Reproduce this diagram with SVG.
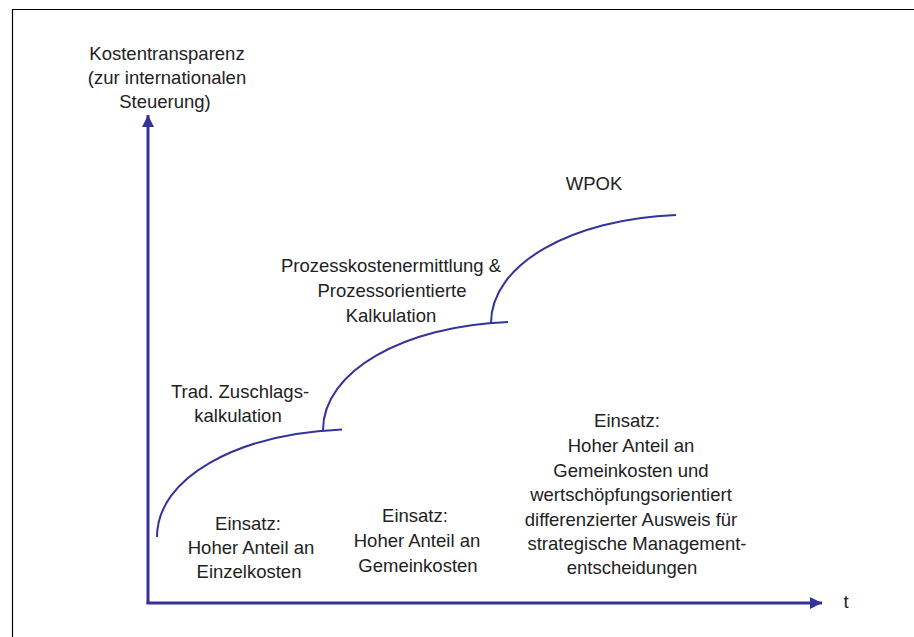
<svg xmlns="http://www.w3.org/2000/svg" width="914" height="637" viewBox="0 0 914 637">
  <style>
    text { font-family: "Liberation Sans", "DejaVu Sans", sans-serif; font-size: 18.5px; fill: #222222; text-anchor: middle; }
    .axis { stroke: #333399; stroke-width: 3; fill: none; }
    .curve { stroke: #333399; stroke-width: 2; fill: none; }
    .frame { stroke: #000000; stroke-width: 1.2; fill: none; }
  </style>
  <defs>
    <marker id="arrow" viewBox="0 0 12 12" refX="12" refY="6" markerWidth="12" markerHeight="12" markerUnits="userSpaceOnUse" orient="auto">
      <path d="M0,0 L12,6 L0,12 Z" fill="#333399"/>
    </marker>
  </defs>
  <rect width="914" height="637" fill="#ffffff"/>
  <path class="frame" d="M12.5,637 L12.5,9.5 L914,9.5"/>

  <g id="connectors">
    <line id="y-axis" class="axis" x1="148" y1="604" x2="148" y2="115" marker-end="url(#arrow)"/>
    <line id="x-axis" class="axis" x1="146.5" y1="603" x2="822" y2="603" marker-end="url(#arrow)"/>
    <path id="curve1" class="curve" d="M157,537 C157,478 236,434 342,429.5"/>
    <path id="curve2" class="curve" d="M323,430 C323,371 404,326 508,322"/>
    <path id="curve3" class="curve" d="M491,323 C491,264 572,219 676,215"/>
  </g>

  <g id="y-label">
    <text x="167" y="60">Kostentransparenz</text>
    <text x="167" y="84">(zur internationalen</text>
    <text x="165" y="108">Steuerung)</text>
  </g>
  <g id="x-label">
    <text x="846" y="608">t</text>
  </g>

  <g id="stage1">
    <text x="240" y="398">Trad. Zuschlags-</text>
    <text x="238" y="422">kalkulation</text>
  </g>
  <g id="stage2">
    <text x="391" y="272">Prozesskostenermittlung &amp;</text>
    <text x="392" y="297">Prozessorientierte</text>
    <text x="391" y="322">Kalkulation</text>
  </g>
  <g id="stage3">
    <text x="594" y="190">WPOK</text>
  </g>

  <g id="einsatz1">
    <text x="248" y="530">Einsatz:</text>
    <text x="251" y="554">Hoher Anteil an</text>
    <text x="249" y="578">Einzelkosten</text>
  </g>
  <g id="einsatz2">
    <text x="415" y="522">Einsatz:</text>
    <text x="417" y="547">Hoher Anteil an</text>
    <text x="418" y="572">Gemeinkosten</text>
  </g>
  <g id="einsatz3">
    <text x="627" y="427">Einsatz:</text>
    <text x="631" y="452">Hoher Anteil an</text>
    <text x="631" y="477">Gemeinkosten und</text>
    <text x="631" y="501">wertschöpfungsorientiert</text>
    <text x="631" y="526">differenzierter Ausweis für</text>
    <text x="637" y="550">strategische Management-</text>
    <text x="632" y="574">entscheidungen</text>
  </g>
</svg>
